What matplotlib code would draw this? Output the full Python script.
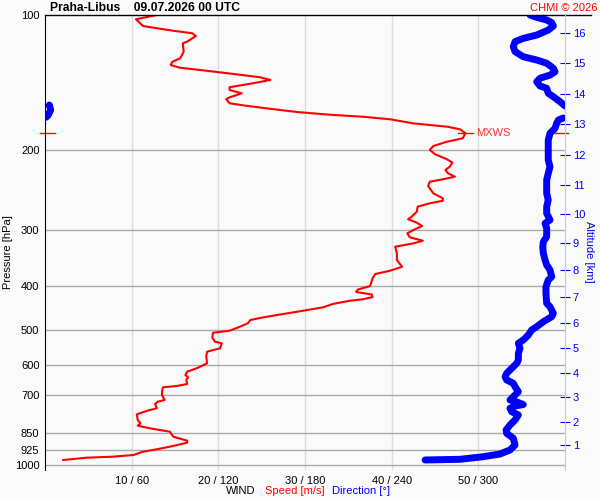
import matplotlib.pyplot as plt
import numpy as np

plt.rcParams['font.family'] = ['Liberation Sans', 'DejaVu Sans']

# wind speed profile [m/s] vs pressure [hPa]
spd_p = [100, 102.2, 105.8, 107.0, 108.4, 109.8, 111.4, 114.6, 115.6, 120.6,
         124.8, 127.0, 129.2, 131.0, 132.5, 135.2, 137.5, 139.4, 141.8, 144.7,
         146.8, 149.3, 152.4, 153.9, 157.1, 158.7, 160.9, 164.3, 166.6, 168.3,
         170.5, 174.1, 177.1, 179.5, 183.2, 187.9, 191.2, 195.5, 199.5, 203.9,
         209.3, 212.9, 217.3, 221.0, 224.8, 228.7, 231.8, 234.7, 239.9, 249.0,
         255.5, 258.7, 262.1, 266.7, 273.6, 280.7, 284.4, 289.4, 294.4, 300.5,
         305.6, 311.9, 317.4, 321.7, 327.3, 338.6, 350.4, 362.6, 370.1, 376.4,
         384.8, 400.4, 407.4, 412.6, 417.9, 423.3, 428.3, 431.4, 438.7, 446.2,
         454.1, 461.8, 469.7, 476.2, 484.3, 492.8, 503.0, 508.2, 520.3, 532.1,
         536.5, 550.4, 560.0, 574.6, 594.3, 609.7, 620.4, 631.0, 638.4, 647.3,
         660.7, 667.5, 672.0, 687.3, 699.0, 717.1, 723.4, 732.0, 748.2, 757.5,
         771.6, 794.3, 808.0, 817.9, 828.9, 843.4, 865.3, 883.1, 892.2, 910.7,
         922.8, 934.3, 950.2, 958.5, 963.4, 974.8]
spd = [12.9, 10.5, 11.3, 12.9, 14.8, 17.0, 17.4, 16.4, 15.9, 16.0,
       15.6, 14.7, 14.5, 15.6, 17.9, 21.7, 24.8, 26.0, 24.0, 21.3,
       21.3, 22.7, 21.3, 20.9, 21.3, 22.8, 25.2, 29.1, 32.9, 36.7,
       39.8, 42.5, 46.4, 47.9, 48.5, 48.2, 46.4, 44.8, 44.4, 45.0,
       46.4, 47.0, 46.7, 46.2, 46.5, 47.3, 45.9, 44.4, 44.2, 44.8,
       45.9, 45.9, 44.4, 43.0, 42.9, 42.3, 41.9, 42.9, 43.5, 42.5,
       41.8, 42.1, 43.6, 42.5, 40.4, 40.6, 40.6, 41.2, 39.8, 38.1,
       37.8, 37.5, 36.1, 35.9, 37.7, 37.8, 36.7, 35.2, 33.2, 32.1,
       29.8, 27.5, 25.2, 23.7, 23.4, 22.5, 21.3, 19.4, 19.3, 19.6,
       20.4, 20.2, 18.7, 18.6, 18.7, 17.5, 16.4, 16.2, 16.5, 16.3,
       16.4, 15.2, 13.6, 13.5, 13.5, 13.8, 13.0, 12.7, 12.9, 11.8,
       10.6, 10.7, 11.0, 10.7, 12.1, 14.4, 14.8, 16.4, 16.4, 14.4,
       12.9, 11.3, 10.2, 7.8, 4.8, 2.1]

# wind direction profile [deg] vs pressure [hPa]
dir_p = [100, 101.2, 102.6, 104.0, 105.8, 108.0, 110.8, 112.7, 114.6, 117.6,
         120.6, 123.8, 125.9, 128.0, 131.3, 133.7, 136.0, 138.2, 140.7, 143.8,
         145.5, 149.3, 151.9, 155.8, 159.3, 158.5, 162.6, 166.8, 168.8, 169.4,
         171.2, 174.1, 178.6, 183.2, 189.6, 199.5, 210.0, 217.3, 224.8, 232.6,
         249.0, 257.7, 266.7, 275.9, 285.5, 290.3, 297.9, 311.0, 319.1, 327.3,
         338.6, 350.4, 359.4, 368.7, 381.6, 388.1, 401.8, 415.3, 437.2, 444.9,
         460.1, 468.2, 480.4, 492.8, 501.2, 514.2, 527.5, 536.5, 550.4, 564.6,
         584.3, 594.3, 609.7, 625.5, 636.5, 647.3, 658.3, 669.9, 687.3, 699.0,
         717.1, 724.4, 733.9, 739.6, 748.2, 761.4, 774.3, 794.3, 815.0, 836.2,
         850.4, 872.4, 902.8, 926.1, 945.4, 958.5, 971.3, 974.8]
wdir = [335.8, 340.4, 347.3, 350.8, 351.9, 348.4, 340.4, 331.1, 325.4, 324.2,
        325.4, 331.1, 340.4, 347.3, 351.9, 353.1, 349.6, 342.7, 340.4, 342.7,
        347.3, 348.4, 351.9, 356.5, 360.0, 3.0, 3.9, 2.3, 0.7, 358.8,
        355.4, 354.2, 353.1, 349.6, 348.4, 348.4, 348.4, 349.6, 348.4, 347.3,
        347.3, 348.4, 347.3, 347.3, 349.6, 346.2, 347.3, 347.3, 345.0, 344.6,
        345.0, 346.2, 347.3, 349.6, 350.8, 348.4, 346.8, 346.8, 347.3, 349.6,
        351.9, 350.8, 345.0, 340.4, 336.9, 334.6, 331.1, 327.7, 328.8, 327.7,
        327.7, 326.6, 323.1, 319.6, 318.5, 319.6, 324.2, 325.4, 327.7, 325.4,
        321.9, 326.6, 331.1, 325.4, 321.9, 323.1, 327.7, 325.4, 321.9, 319.2,
        319.6, 324.2, 325.4, 321.9, 315.0, 303.4, 287.3, 263.1]

p_ticks = [100, 200, 300, 400, 500, 600, 700, 850, 925, 1000]
x_ticks = [10, 20, 30, 40, 50]
x_labels = ['10 / 60', '20 / 120', '30 / 180', '40 / 240', '50 / 300']
km_labels = [1, 2, 3, 4, 5, 6, 7, 8, 9, 10, 11, 12, 13, 14, 15, 16]
km_p = [902.8, 803.6, 707.3, 623.6, 550.4, 484.3, 422.7, 368.7, 320.6, 276.5,
        239.0, 204.7, 175.0, 150.1, 128.0, 109.8]

bg = '#fafafa'
fs = 8
fig = plt.figure(figsize=(6, 5), dpi=100, facecolor=bg)
ax = fig.add_axes([0.075, 0.06, 0.8667, 0.91], facecolor=bg)
ax.set_yscale('log')
ax.set_ylim(1026, 100)
ax.set_xlim(0, 60)

# grid
for p in p_ticks[1:]:
    ax.axhline(p, color='#aaaaaa', lw=1, zorder=1)
for x in x_ticks:
    ax.axvline(x, color='#dddddd', lw=1, zorder=0)
ax.axhline(100, xmin=0, xmax=1.05, color='black', lw=1, clip_on=False, zorder=5)

# direction: scale 0-360 onto 0-60, break at wrap-around
d = np.array(wdir) / 6.0
dp = np.array(dir_p, dtype=float)
jumps = np.where(np.abs(np.diff(d)) > 30)[0]
d = np.insert(d, jumps + 1, np.nan)
dp = np.insert(dp, jumps + 1, np.nan)
ax.plot(d, dp, color='#0000ff', lw=5, solid_capstyle='round', solid_joinstyle='round', zorder=3)

ax.plot(spd, spd_p, color='#ff0000', lw=1.5, zorder=4)

# max wind marker
imax = int(np.argmax(spd))
mx_s, mx_p = spd[imax], spd_p[imax]
ax.plot([mx_s - 0.8, mx_s + 0.9], [mx_p, mx_p], color='#ff0000', lw=1, zorder=4)
ax.text(mx_s + 1.3, mx_p, 'MXWS', color='#ff3333', fontsize=fs, va='center')
ax.plot([-0.6, 1.2], [mx_p, mx_p], color='#ff0000', lw=1, clip_on=False)
ax.plot([58.8, 60.3], [mx_p, mx_p], color='#ff0000', lw=1, clip_on=False)

ax.set_yticks(p_ticks)
ax.set_yticklabels([str(p) for p in p_ticks], fontsize=fs)
ax.yaxis.set_minor_locator(plt.NullLocator())
ax.set_xticks(x_ticks)
ax.set_xticklabels(x_labels, fontsize=fs)
ax.tick_params(length=0, pad=4)
ax.set_ylabel('Pressure [hPa]', fontsize=fs, va='center')
ax.yaxis.set_label_coords(-0.071, 0.48)

for s in ['top', 'bottom']:
    ax.spines[s].set_visible(False)
ax.spines['left'].set_color('black')
ax.spines['right'].set_color('#cccccc')

# altitude axis
ax2 = ax.twinx()
ax2.set_yscale('log')
ax2.set_ylim(1026, 100)
ax2.set_yticks(km_p)
ax2.set_yticklabels([str(k) for k in km_labels], fontsize=fs, color='#0000ff')
ax2.yaxis.set_minor_locator(plt.NullLocator())
ax2.tick_params(axis='y', direction='inout', length=7, color='#0000ff', pad=2)
for s in ['top', 'bottom', 'left']:
    ax2.spines[s].set_visible(False)
ax2.spines['right'].set_color('#cccccc')
ax2.set_ylabel('Altitude [km]', fontsize=fs, color='#0000ff', rotation=-90, va='center')
ax2.yaxis.set_label_coords(1.046, 0.48)

fig.text(0.083, 0.984, 'Praha-Libus    09.07.2026 00 UTC', fontsize=8.7, fontweight='bold', va='center')
fig.text(0.995, 0.984, 'CHMI \u00a9 2026', fontsize=fs, color='#ff0000', ha='right', va='center')
fig.text(0.377, 0.018, 'WIND', fontsize=fs, va='center')
fig.text(0.442, 0.018, 'Speed [m/s]', fontsize=fs, color='#ff0000', va='center')
fig.text(0.553, 0.018, 'Direction [\u00b0]', fontsize=fs, color='#0000ff', va='center')

fig.savefig('out.png', dpi=100, facecolor=bg)
